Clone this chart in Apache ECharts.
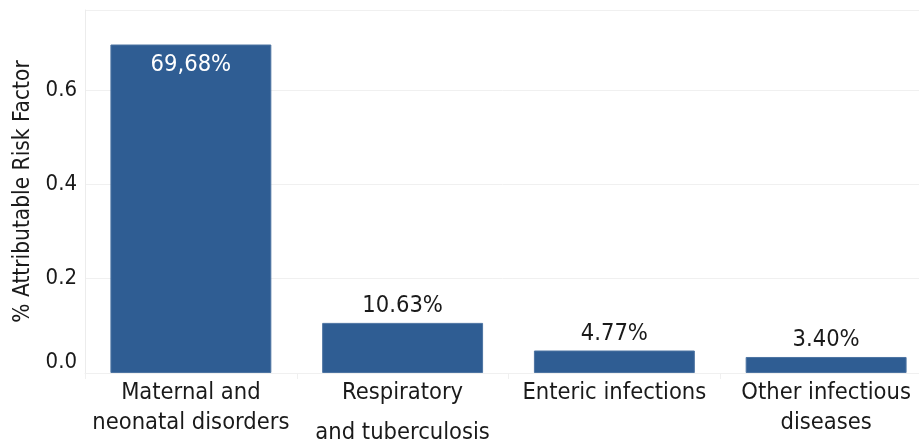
<!DOCTYPE html>
<html>
<head>
<meta charset="utf-8">
<script src="https://cdn.jsdelivr.net/npm/echarts@6/dist/echarts.min.js"></script>
<style>
  html, body { margin: 0; padding: 0; background: #ffffff; }
  #chart { width: 919px; height: 440px; }
</style>
</head>
<body>
<div id="chart"></div>
<script>
// Share of attributable risk by cause group
const categories = [
  'Maternal and\nneonatal disorders',
  'Respiratory\nand tuberculosis',
  'Enteric infections',
  'Other infectious\ndiseases'
];
const values = [0.6968, 0.1063, 0.0477, 0.0340];
const valueLabels = ['69,68%', '10.63%', '4.77%', '3.40%'];
const yTicks = [0.0, 0.2, 0.4, 0.6];

const FONT = '"DejaVu Sans Condensed", "DejaVu Sans", sans-serif';
const TEXT = '#1a1a1a';
const BAR = '#2f5d93';
const FS = 23.5;

const chart = echarts.init(document.getElementById('chart'), null, { renderer: 'canvas' });

chart.setOption({
  animation: false,
  backgroundColor: '#ffffff',
  grid: {
    left: 85, top: 10, width: 847, bottom: 67,
    containLabel: false,
    outerBoundsMode: 'none'
  },
  xAxis: {
    type: 'category',
    data: categories,
    axisLine: { show: true, lineStyle: { color: '#f0f0f0', width: 1 } },
    axisTick: { show: true, length: 6, lineStyle: { color: '#f0f0f0' } },
    axisLabel: {
      interval: 0,
      margin: 5,
      color: TEXT,
      fontFamily: FONT,
      fontSize: FS,
      hideOverlap: false,
      formatter: function (v) {
        const lines = v.split('\n');
        if (v.indexOf('Respiratory') === 0) {
          return '{a|' + lines[0] + '}\n{b|' + lines[1] + '}';
        }
        return lines.map(function (l) { return '{a|' + l + '}'; }).join('\n');
      },
      rich: {
        a: { fontFamily: FONT, fontSize: FS, color: TEXT, lineHeight: 30 },
        b: { fontFamily: FONT, fontSize: FS, color: TEXT, lineHeight: 50 }
      }
    },
    splitLine: { show: false }
  },
  yAxis: {
    type: 'value',
    min: 0,
    max: 0.77,
    interval: 0.2,
    name: '% Attributable Risk Factor',
    nameLocation: 'middle',
    nameGap: 50,
    nameRotate: 90,
    nameTextStyle: { fontFamily: FONT, fontSize: 22.5, color: TEXT },
    axisLine: { show: true, lineStyle: { color: '#ececec', width: 1 } },
    axisTick: { show: false },
    axisLabel: {
      margin: 8,
      color: TEXT,
      fontFamily: FONT,
      fontSize: 22,
      showMaxLabel: false,
      verticalAlignMinLabel: 'bottom',
      formatter: function (v) {
        for (let i = 0; i < yTicks.length; i++) {
          if (Math.abs(v - yTicks[i]) < 1e-9) return yTicks[i].toFixed(1);
        }
        return '';
      }
    },
    splitLine: { show: true, lineStyle: { color: '#f0f0f0', width: 1 } }
  },
  series: [{
    type: 'bar',
    barWidth: '76%',
    data: values.map(function (v, i) {
      const first = i === 0;
      return {
        value: v,
        label: {
          show: true,
          position: first ? 'insideTop' : 'top',
          distance: first ? 8 : 5,
          color: first ? '#ffffff' : TEXT,
          fontFamily: FONT,
          fontSize: FS,
          formatter: valueLabels[i]
        }
      };
    }),
    itemStyle: { color: BAR, borderColor: '#4d74a2', borderWidth: 1 }
  }]
});
</script>
</body>
</html>
